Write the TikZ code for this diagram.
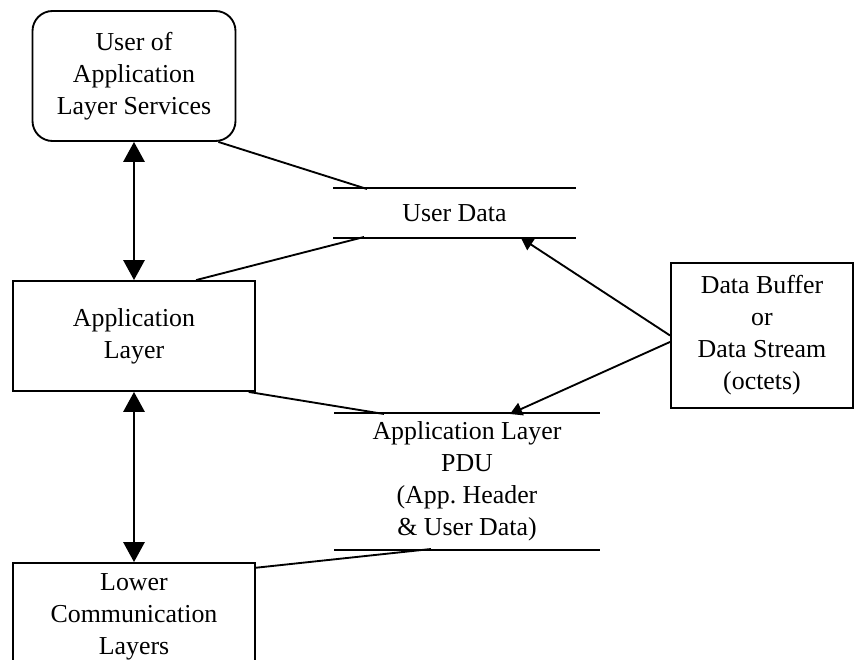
\documentclass[tikz,border=0pt]{standalone}
\usepackage{fontspec}
\setmainfont{Liberation Serif}
\usetikzlibrary{arrows.meta}

\begin{document}
\begin{tikzpicture}[x=0.75pt, y=-0.75pt, line width=1.4pt,
        every node/.style={font=\fontsize{19.4pt}{24pt}\selectfont, align=center, inner sep=0pt},
        box/.style={draw, rectangle},
        store/.style={rectangle},
        both/.style={{Triangle[length=15pt,width=16pt]}-{Triangle[length=15pt,width=16pt]}},
        flow/.style={-{Triangle[length=9pt,width=10pt]}}]
            \useasboundingbox (0, 0) rectangle (854, 660);
            \clip (0, 0) rectangle (854, 660);

            \node[box, rounded corners=15pt, minimum width=152.25pt, minimum height=97.5pt] (user) at (134, 76) {User of\\Application\\Layer Services};
            \node[box, minimum width=181.5pt, minimum height=82.5pt] (app) at (134, 336) {Application\\Layer};
            \node[box, minimum width=181.5pt, minimum height=81pt] (lower) at (134, 617) {Lower\\Communication\\Layers};
            \node[box, minimum width=136.5pt, minimum height=108.75pt] (buffer) at (762, 335.5) {Data Buffer\\or\\Data Stream\\(octets)};

            \node[store, minimum width=180.75pt, minimum height=36pt] (userdata) at (454.5, 213) {User Data};
            \node[store, minimum width=198pt, minimum height=101.25pt] (pdu) at (467, 481.5) {Application Layer\\PDU\\(App.\ Header\\\& User Data)};

            \draw (userdata.north west) -- (userdata.north east);
            \draw (userdata.south west) -- (userdata.south east);
            \draw (pdu.north west) -- (pdu.north east);
            \draw (pdu.south west) -- (pdu.south east);

            \coordinate (ud1) at (367, 189);
            \coordinate (ud2) at (364, 237);
            \coordinate (ud3) at (521, 238);
            \coordinate (pdu1) at (384, 414);
            \coordinate (pdu2) at (510, 414);
            \coordinate (pdu3) at (431, 549);

            \draw[both] (user.south) to (app.north);
            \draw[both] (app.south) to (lower.north);

            \draw (user.-38) to (ud1);
            \draw (app.42) to (ud2);
            \draw (app.-26) to (pdu1);
            \draw (lower.22) to (pdu3);

            \draw[flow] (buffer.west) to (ud3);
            \draw[flow] (buffer.184) to (pdu2);
        \end{tikzpicture}
\end{document}
